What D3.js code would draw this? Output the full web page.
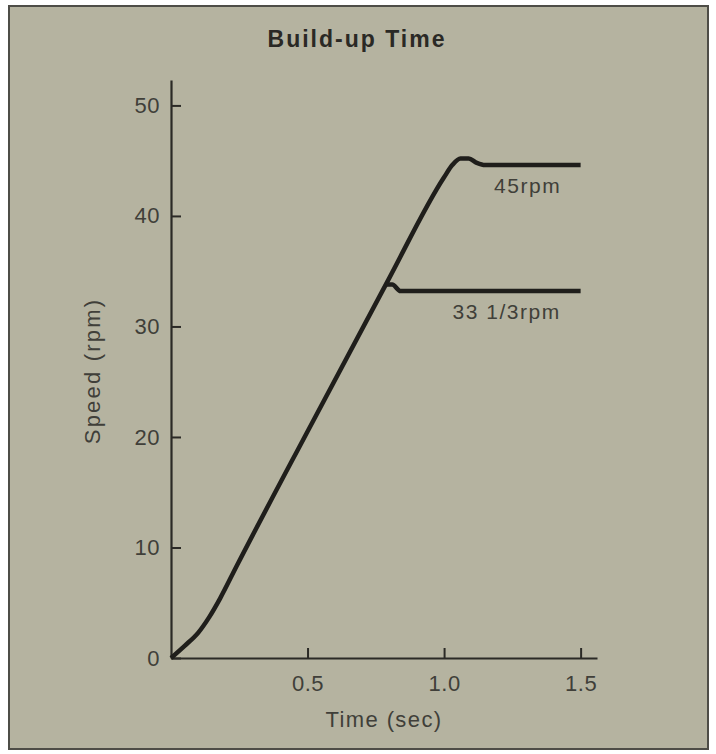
<!DOCTYPE html>
<html>
<head>
<meta charset="utf-8">
<script src="https://cdn.jsdelivr.net/npm/d3@7"></script>
<style>
  html, body { margin: 0; padding: 0; background: #ffffff; }
  svg { display: block; }
  .txt { font-family: "Liberation Sans", Arial, sans-serif; fill: #403f39; }
</style>
</head>
<body>
<svg id="chart" width="716" height="754"></svg>
<script>
// time (sec) / speed (rpm)
const rampTime  = [0, 0.05, 0.1, 0.14, 0.18, 0.24, 0.5, 0.789, 1.0, 1.03, 1.06, 1.09, 1.12, 1.15, 1.5];
const rampSpeed = [0, 1.1, 2.3, 3.7, 5.4, 8.3, 20.5, 33.9, 43.5, 44.6, 45.2, 45.2, 44.8, 44.6, 44.6];
const branchTime  = [0.785, 0.81, 0.84, 1.5];
const branchSpeed = [33.8, 33.8, 33.2, 33.2];

const yTicks = [0, 10, 20, 30, 40, 50];
const xTicks = [0.5, 1.0, 1.5];
const curveLabels = ["45rpm", "33 1/3rpm"];
const labelTime = [1.306, 1.229];
const labelSpeed = [42.1, 30.7];

const svg = d3.select("#chart");

// paper panel with dark frame
svg.append("rect")
    .attr("x", 9).attr("y", 6)
    .attr("width", 699).attr("height", 743)
    .attr("fill", "#b5b3a0")
    .attr("stroke", "#4e4d47")
    .attr("stroke-width", 2);

const x = d3.scaleLinear().domain([0, 1.56]).range([171, 597]);
const y = d3.scaleLinear().domain([0, 52.3]).range([658, 80]);

const yAxis = svg.append("g")
    .attr("transform", "translate(171,0)")
    .call(d3.axisLeft(y)
        .tickValues(yTicks)
        .tickSizeInner(-10)
        .tickSizeOuter(0)
        .tickPadding(11));

const xAxis = svg.append("g")
    .attr("transform", "translate(0,658)")
    .call(d3.axisBottom(x)
        .tickValues(xTicks)
        .tickFormat(d3.format(".1f"))
        .tickSizeInner(-10)
        .tickSizeOuter(0)
        .tickPadding(17));

[xAxis, yAxis].forEach(function (g) {
    g.select(".domain").attr("stroke", "#2b2a26").attr("stroke-width", 2.2);
    g.selectAll(".tick line").attr("stroke", "#2b2a26").attr("stroke-width", 2);
    g.selectAll(".tick text")
        .attr("class", "txt")
        .attr("fill", "#403f39")
        .style("font-size", "22px")
        .style("letter-spacing", "0.5px");
});

const line = d3.line()
    .x(d => x(d[0]))
    .y(d => y(d[1]))
    .curve(d3.curveMonotoneX);

const series = [
    d3.zip(rampTime, rampSpeed),
    d3.zip(branchTime, branchSpeed)
];

svg.append("g").selectAll("path")
    .data(series)
    .enter().append("path")
    .attr("d", line)
    .attr("fill", "none")
    .attr("stroke", "#1f1e1b")
    .attr("stroke-width", 4.5)
    .attr("stroke-linejoin", "round")
    .attr("stroke-linecap", "butt");

svg.append("g").selectAll("text")
    .data(curveLabels)
    .enter().append("text")
    .attr("class", "txt")
    .attr("x", (d, i) => x(labelTime[i]))
    .attr("y", (d, i) => y(labelSpeed[i]))
    .attr("text-anchor", "middle")
    .style("font-size", "21px")
    .style("letter-spacing", "1.5px")
    .text(d => d);

// titles
svg.append("text")
    .attr("class", "txt")
    .attr("x", 357).attr("y", 47)
    .attr("text-anchor", "middle")
    .style("font-size", "23px")
    .style("font-weight", "bold")
    .style("letter-spacing", "2px")
    .style("fill", "#2a2925")
    .text("Build-up Time");

svg.append("text")
    .attr("class", "txt")
    .attr("x", 384).attr("y", 727)
    .attr("text-anchor", "middle")
    .style("font-size", "22px")
    .style("letter-spacing", "1.4px")
    .text("Time (sec)");

svg.append("text")
    .attr("class", "txt")
    .attr("transform", "translate(100,371) rotate(-90)")
    .attr("text-anchor", "middle")
    .style("font-size", "22px")
    .style("letter-spacing", "2.2px")
    .text("Speed (rpm)");
</script>
</body>
</html>
